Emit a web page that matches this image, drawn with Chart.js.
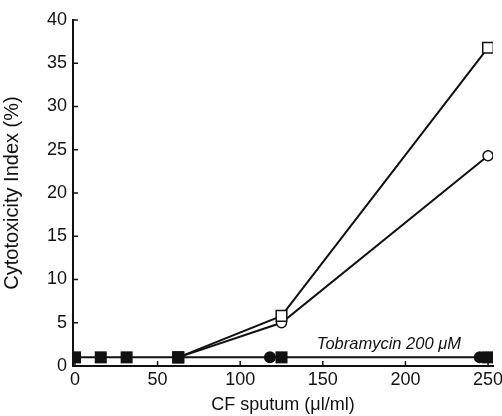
<!DOCTYPE html>
<html>
<head>
<meta charset="utf-8">
<script src="https://cdn.jsdelivr.net/npm/chart.js@4/dist/chart.umd.min.js"></script>
<style>
  html, body { margin: 0; padding: 0; background: #fff; }
  #wrap { width: 502px; height: 416px; }
</style>
</head>
<body>
<div id="wrap"><canvas id="chart" width="502" height="416"></canvas></div>
<script>
// data
const concFilledSq = [0, 15.6, 31.25, 62.5, 125, 250];
const toxFilledSq = [1, 1, 1, 1, 1, 1];
const concFilledCirc = [118, 245];
const toxFilledCirc = [1, 1];
const concOpen = [62.5, 125, 250];
const toxOpenSq = [1, 5.8, 36.8];
const toxOpenCirc = [1, 5, 24.3];
const xTicks = [0, 50, 100, 150, 200, 250];
const yTicks = [0, 5, 10, 15, 20, 25, 30, 35, 40];
const noteText = 'Tobramycin 200 \u03bcM';
const notePos = { x: 190, y: 2.5 };

const ink = '#111';
const font = 'Liberation Sans, Arial, sans-serif';

function pts(xs, ys) {
  return xs.map((x, i) => ({ x: x, y: ys[i] }));
}

// inward tick marks, x tick labels (may run to the edge) + note text
const extras = {
  id: 'extras',
  afterDraw(chart) {
    const ctx = chart.ctx;
    const xs = chart.scales.x, ys = chart.scales.y;
    const area = chart.chartArea;
    ctx.save();
    ctx.strokeStyle = ink;
    ctx.lineWidth = 1.5;
    xTicks.forEach(v => {
      const px = xs.getPixelForValue(v);
      ctx.beginPath();
      ctx.moveTo(px, area.bottom);
      ctx.lineTo(px, area.bottom - 5);
      ctx.stroke();
    });
    yTicks.forEach(v => {
      const py = ys.getPixelForValue(v);
      ctx.beginPath();
      ctx.moveTo(area.left, py);
      ctx.lineTo(area.left + 5, py);
      ctx.stroke();
    });
    ctx.fillStyle = ink;
    ctx.font = '18px ' + font;
    ctx.textAlign = 'center';
    ctx.textBaseline = 'top';
    xTicks.forEach(v => {
      ctx.fillText(String(v), xs.getPixelForValue(v), area.bottom + 5);
    });
    ctx.font = 'italic 16.5px ' + font;
    ctx.textBaseline = 'middle';
    ctx.fillText(noteText, xs.getPixelForValue(notePos.x), ys.getPixelForValue(notePos.y));
    ctx.restore();
  }
};

new Chart(document.getElementById('chart'), {
  type: 'scatter',
  data: {
    datasets: [
      {
        label: 'filled squares',
        data: pts(concFilledSq, toxFilledSq),
        showLine: true,
        borderColor: ink,
        borderWidth: 2,
        pointStyle: 'rect',
        pointRadius: 8.5,
        pointBorderWidth: 0,
        pointBackgroundColor: ink
      },
      {
        label: 'filled circles',
        data: pts(concFilledCirc, toxFilledCirc),
        showLine: false,
        pointStyle: 'circle',
        pointRadius: 6,
        pointBorderWidth: 0,
        pointBackgroundColor: ink
      },
      {
        label: 'open squares',
        data: pts(concOpen, toxOpenSq),
        showLine: true,
        borderColor: ink,
        borderWidth: 2,
        pointStyle: 'rect',
        pointRadius: 7.5,
        pointBorderWidth: 1.5,
        pointBackgroundColor: '#fff',
        pointBorderColor: ink
      },
      {
        label: 'open circles',
        data: pts(concOpen, toxOpenCirc),
        showLine: true,
        borderColor: ink,
        borderWidth: 2,
        pointStyle: 'circle',
        pointRadius: 5,
        pointBorderWidth: 1.5,
        pointBackgroundColor: '#fff',
        pointBorderColor: ink
      }
    ]
  },
  options: {
    responsive: false,
    animation: false,
    layout: { padding: { top: 20, right: 4, left: 0, bottom: 0 } },
    plugins: { legend: { display: false }, tooltip: { enabled: false } },
    scales: {
      x: {
        type: 'linear',
        min: -1.2,
        max: 253,
        afterBuildTicks: s => { s.ticks = xTicks.map(v => ({ value: v })); },
        afterFit: s => { s.height = 50; },
        grid: { drawOnChartArea: false, drawTicks: false },
        border: { display: true, color: ink, width: 2 },
        ticks: { display: false },
        title: {
          display: true,
          text: 'CF sputum (\u03bcl/ml)',
          color: ink,
          padding: { top: 1, bottom: 0 },
          font: { family: font, size: 18 }
        }
      },
      y: {
        min: 0,
        max: 40,
        afterBuildTicks: s => { s.ticks = yTicks.map(v => ({ value: v })); },
        afterFit: s => { s.width = 73; },
        grid: { drawOnChartArea: false, drawTicks: false },
        border: { display: true, color: ink, width: 2 },
        ticks: { color: ink, padding: 6, font: { family: font, size: 18 } },
        title: {
          display: true,
          text: 'Cytotoxicity Index (%)',
          color: ink,
          padding: { top: 0, bottom: 3 },
          font: { family: font, size: 20 }
        }
      }
    }
  },
  plugins: [extras]
});
</script>
</body>
</html>
